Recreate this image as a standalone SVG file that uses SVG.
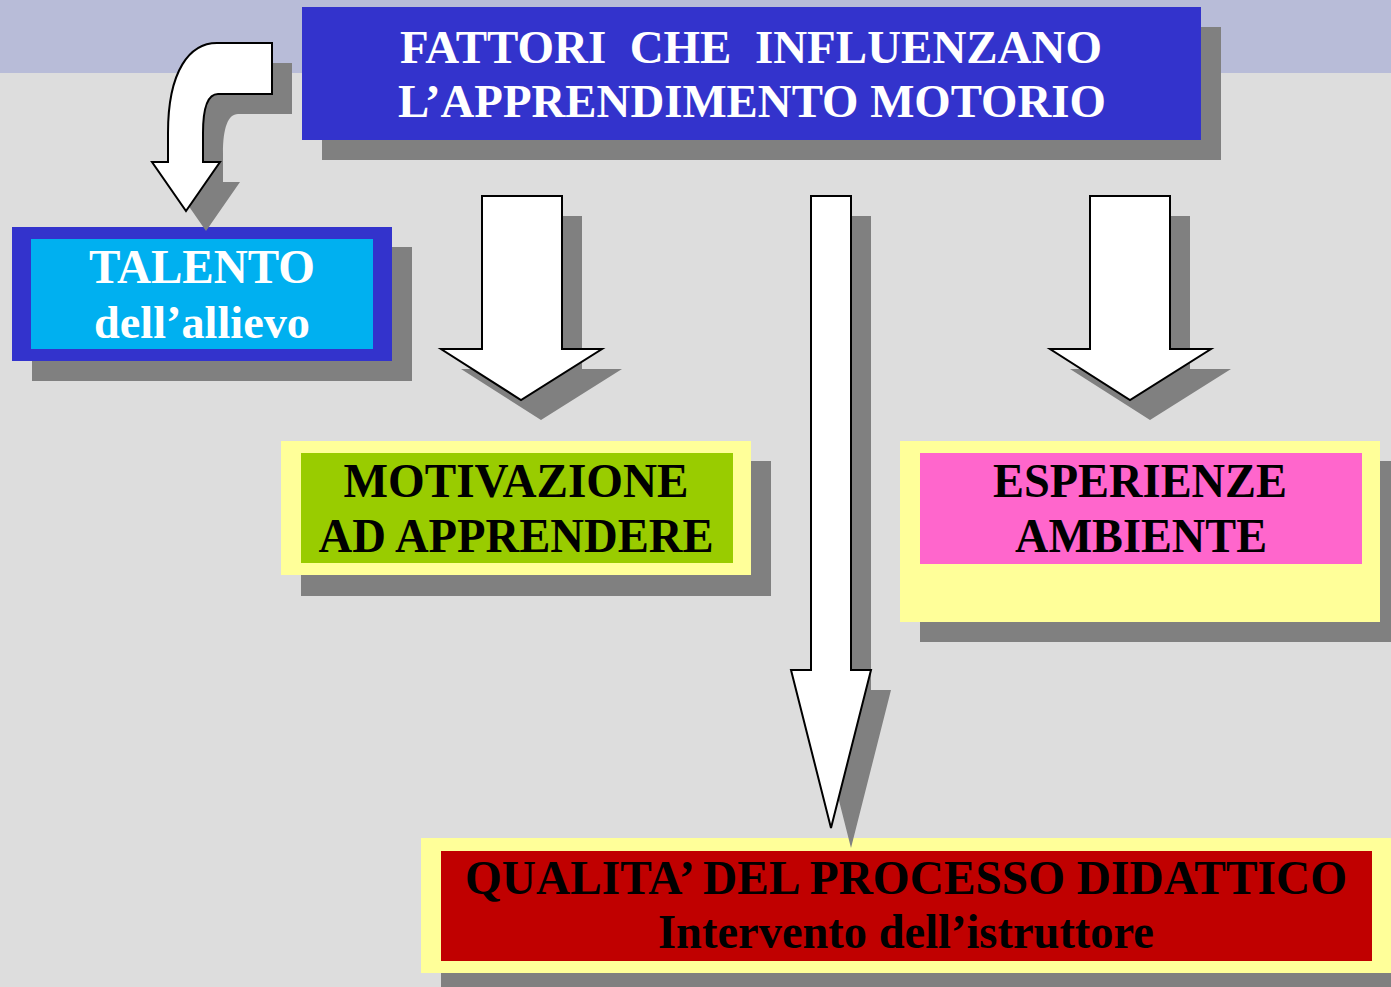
<svg xmlns="http://www.w3.org/2000/svg" width="1391" height="987" viewBox="0 0 1391 987">
<style>
.sh{fill:#808080}
.arrow{fill:#FFFFFF;stroke:#000000;stroke-width:2;stroke-linejoin:miter}
.t{font-family:"Liberation Serif","Times New Roman",serif;font-weight:bold;text-anchor:middle}
.w{fill:#FFFFFF}
.k{fill:#000000}
</style>
<rect x="0" y="0" width="1391" height="987" fill="#DDDDDD"/>
<rect x="0" y="0" width="1391" height="73" fill="#B8BCD8"/>

<g id="title">
  <rect class="sh" x="322" y="27" width="899" height="133"/>
  <rect x="302" y="7" width="899" height="133" fill="#3333CC"/>
  <text class="t w" x="751" y="63" font-size="47" textLength="702" lengthAdjust="spacingAndGlyphs" xml:space="preserve">FATTORI  CHE  INFLUENZANO</text>
  <text class="t w" x="752" y="117" font-size="47" textLength="708" lengthAdjust="spacingAndGlyphs">L’APPRENDIMENTO MOTORIO</text>
</g>

<g id="talento">
  <rect class="sh" x="32" y="247" width="380" height="134"/>
  <rect x="12" y="227" width="380" height="134" fill="#3333CC"/>
  <rect x="31" y="239" width="342" height="110" fill="#00B0F0"/>
  <text class="t w" x="202" y="283" font-size="48" textLength="226" lengthAdjust="spacingAndGlyphs">TALENTO</text>
  <text class="t w" x="202" y="338" font-size="46" textLength="216" lengthAdjust="spacingAndGlyphs">dell’allievo</text>
</g>

<g id="motivazione">
  <rect class="sh" x="301" y="461" width="470" height="135"/>
  <rect x="281" y="441" width="470" height="134" fill="#FFFF99"/>
  <rect x="301" y="453" width="432" height="110" fill="#99CC00"/>
  <text class="t k" x="516" y="497" font-size="48" textLength="345" lengthAdjust="spacingAndGlyphs">MOTIVAZIONE</text>
  <text class="t k" x="516" y="552" font-size="48" textLength="395" lengthAdjust="spacingAndGlyphs">AD APPRENDERE</text>
</g>

<g id="esperienze">
  <rect class="sh" x="920" y="461" width="480" height="181"/>
  <rect x="900" y="441" width="480" height="181" fill="#FFFF99"/>
  <rect x="920" y="453" width="442" height="111" fill="#FF66CC"/>
  <text class="t k" x="1140" y="497" font-size="48" textLength="294" lengthAdjust="spacingAndGlyphs">ESPERIENZE</text>
  <text class="t k" x="1141" y="552" font-size="48" textLength="252" lengthAdjust="spacingAndGlyphs">AMBIENTE</text>
</g>

<g id="qualita">
  <rect class="sh" x="441" y="858" width="970" height="140"/>
  <rect x="421" y="838" width="970" height="135" fill="#FFFF99"/>
  <rect x="441" y="851" width="931" height="110" fill="#C00000"/>
  <text class="t k" x="906" y="894" font-size="48" textLength="882" lengthAdjust="spacingAndGlyphs">QUALITA’ DEL PROCESSO DIDATTICO</text>
  <text class="t k" x="906" y="948" font-size="48" textLength="496" lengthAdjust="spacingAndGlyphs">Intervento dell’istruttore</text>
</g>

<g id="connectors">
  <g id="arrow-talento">
    <path class="sh" transform="translate(20,20)" d="M272,43 L217,43 C190,43 168,70 168,133 L168,162 L152,162 L186,211 L220,162 L203,162 L203,133 C203,108 208,94 218,94 L272,94 Z"/>
    <path class="arrow" d="M272,43 L217,43 C190,43 168,70 168,133 L168,162 L152,162 L186,211 L220,162 L203,162 L203,133 C203,108 208,94 218,94 L272,94 Z"/>
  </g>
  <g id="arrow-motivazione">
    <path class="sh" transform="translate(20,20)" d="M482,196 L562,196 L562,349 L602,349 L521,400 L441,349 L482,349 Z"/>
    <path class="arrow" d="M482,196 L562,196 L562,349 L602,349 L521,400 L441,349 L482,349 Z"/>
  </g>
  <g id="arrow-qualita">
    <path class="sh" transform="translate(20,20)" d="M811,196 L851,196 L851,670 L871,670 L831,828 L791,670 L811,670 Z"/>
    <path class="arrow" d="M811,196 L851,196 L851,670 L871,670 L831,828 L791,670 L811,670 Z"/>
  </g>
  <g id="arrow-esperienze">
    <path class="sh" transform="translate(20,20)" d="M1090,196 L1170,196 L1170,349 L1211,349 L1130,400 L1050,349 L1090,349 Z"/>
    <path class="arrow" d="M1090,196 L1170,196 L1170,349 L1211,349 L1130,400 L1050,349 L1090,349 Z"/>
  </g>
</g>
</svg>
